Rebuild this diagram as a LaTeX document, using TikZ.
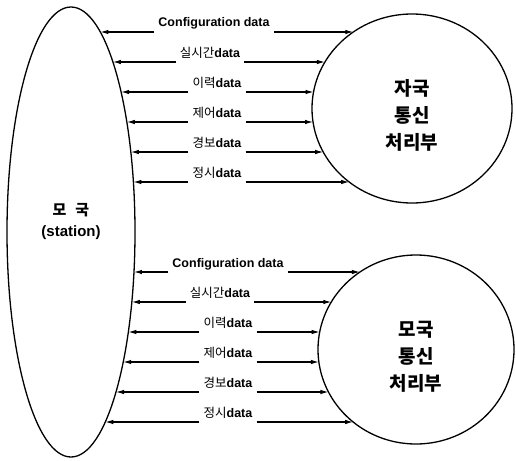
\documentclass[tikz,border=0pt]{standalone}
\usepackage{fontspec}
\setmainfont{Liberation Sans}
\newfontfamily\kr{Noto Sans CJK KR}
\usetikzlibrary{positioning,arrows.meta,shapes.geometric}

\begin{document}
\begin{tikzpicture}[x=1pt, y=1pt,
  >={Latex[length=8pt,width=4.5pt]},
  unit/.style={draw, line width=1.3pt, ellipse, inner sep=0pt},
  unittext/.style={align=center, font=\kr\bfseries\fontsize{19}{27}\selectfont},
  lbl/.style={font=\bfseries\fontsize{12.5}{13}\selectfont, inner xsep=4pt, inner ysep=1pt, anchor=base},
  link/.style={->, line width=1.1pt}
]
\useasboundingbox (0,0) rectangle (516,-460);

% ---------- units ----------
\node[unit, minimum width=128pt, minimum height=450pt] (st) at (71,-232) {};
\node[unit, minimum width=200pt, minimum height=189pt] (sub) at (412,-108.5) {};
\node[unit, minimum width=196pt, minimum height=189pt] (main) at (416,-349.5) {};
\node[align=center, font=\bfseries\fontsize{15}{21}\selectfont] (stname) at ([yshift=10pt]st.center)
  {{\kr 모\hspace{0.6em}국}\\(station)};
\node[unittext] (subname) at ([yshift=-7pt]sub.center) {자국\\통신\\처리부};
\node[unittext] (mainname) at ([yshift=-7pt]main.center) {모국\\통신\\처리부};

% ---------- links to the sub-station unit ----------
\foreach \i/\yy/\xc/\txt in {1/32/214/{Configuration data}, 2/62/210/{{\kr\mdseries 실시간}data},
    3/92/217/{{\kr\mdseries 이력}data}, 4/122/217/{{\kr\mdseries 제어}data},
    5/152/217/{{\kr\mdseries 경보}data}, 6/182/217/{{\kr\mdseries 정시}data}}{
  \pgfmathsetmacro\xl{71+64*sqrt(1-((\yy-232)/225)^2)}
  \pgfmathsetmacro\xr{412-100*sqrt(1-((\yy-108.5)/94.5)^2)}
  \coordinate (a\i) at (\xc,-\yy);
  \coordinate (la\i) at (\xl,-\yy);
  \coordinate (ra\i) at (\xr,-\yy);
  \node[lbl] (ta\i) at (\xc,{5-\yy}) {\txt};
  \draw[link] (ta\i.west |- a\i) -- (la\i);
  \draw[link] (ta\i.east |- a\i) -- (ra\i);
}

% ---------- links to the main-station unit ----------
\foreach \i/\yy/\xc/\txt in {1/272/228/{Configuration data}, 2/302/220/{{\kr\mdseries 실시간}data},
    3/332/228/{{\kr\mdseries 이력}data}, 4/362/228/{{\kr\mdseries 제어}data},
    5/392/228/{{\kr\mdseries 경보}data}, 6/422/228/{{\kr\mdseries 정시}data}}{
  \pgfmathsetmacro\xl{71+64*sqrt(1-((\yy-232)/225)^2)}
  \pgfmathsetmacro\xr{416-98*sqrt(1-((\yy-349.5)/94.5)^2)}
  \coordinate (b\i) at (\xc,-\yy);
  \coordinate (lb\i) at (\xl,-\yy);
  \coordinate (rb\i) at (\xr,-\yy);
  \node[lbl] (tb\i) at (\xc,{5-\yy}) {\txt};
  \draw[link] (tb\i.west |- b\i) -- (lb\i);
  \draw[link] (tb\i.east |- b\i) -- (rb\i);
}
\end{tikzpicture}
\end{document}
